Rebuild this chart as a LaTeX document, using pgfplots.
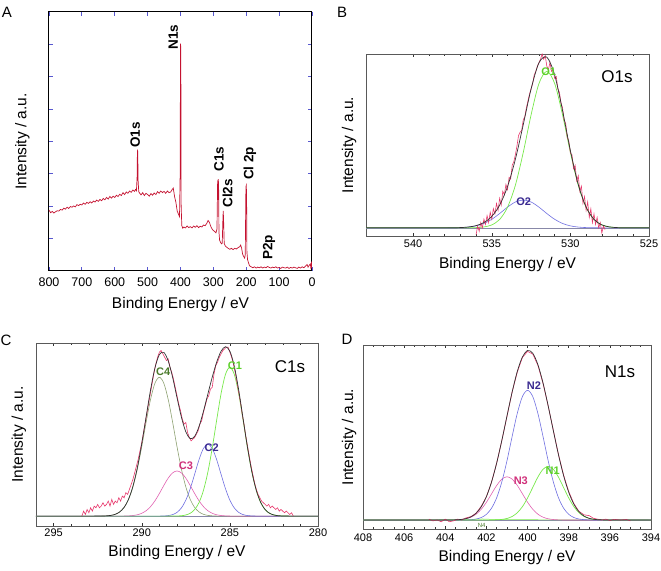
\documentclass[border=0pt]{standalone}
\usepackage{fontspec}
\setmainfont{Liberation Sans}
\usepackage{pgfplots}
\pgfplotsset{compat=1.18}
\definecolor{spec}{HTML}{C41230}
\definecolor{tickblue}{HTML}{5858D0}
\definecolor{raw}{HTML}{E8386C}
\definecolor{env}{HTML}{333333}
\definecolor{cgreen}{HTML}{77E84A}
\definecolor{cblue}{HTML}{6E6EE0}
\definecolor{cpink}{HTML}{E060B0}
\definecolor{colive}{HTML}{8CA070}
\definecolor{lgreen}{HTML}{5CD02A}
\definecolor{lblue}{HTML}{3A2A90}
\definecolor{lpink}{HTML}{D0307A}
\definecolor{lolive}{HTML}{4A7A2A}
\definecolor{base}{HTML}{8888A8}
\tikzset{pk/.style={font=\bfseries\fontsize{11bp}{12bp}\selectfont, inner sep=0pt}}
\pgfplotsset{
  common/.style={scale only axis, x dir=reverse,
    /pgf/number format/assume math mode=true,
    /pgf/number format/1000 sep={},
    tick align=inside,
    xlabel={Binding Energy / eV}, ylabel={Intensity / a.u.},
    label style={font=\fontsize{15.5bp}{18bp}\selectfont},
  },
  fitax/.style={common,
    axis line style={draw=black!65, line width=0.8pt},
    every tick/.style={black!80, line width=0.5pt},
    major tick length=3bp, minor tick length=2bp,
    ytick=\empty,
    tick label style={font=\fontsize{11bp}{13bp}\selectfont},
  },
}
\begin{document}
\begin{tikzpicture}[x=1bp,y=1bp]
\path[use as bounding box] (0,0) rectangle (661,571);
% ---------------- A ----------------
\begin{axis}[common, at={(49bp,300bp)}, anchor=south west, width=263bp, height=259bp,
  xmin=0, xmax=800, ymin=0, ymax=8,
  xtick={0,100,...,800}, ytick={1,...,7}, yticklabels={},
  axis line style={draw=black, line width=1pt},
  every tick/.style={tickblue, line width=0.8pt}, major tick length=4bp,
  tick label style={font=\fontsize{12.5bp}{14bp}\selectfont},
  xticklabel style={anchor=center, yshift=-11.5bp},
  xlabel style={at={(axis description cs:0.5,-0.131)}, anchor=center},
  ylabel style={at={(axis description cs:-0.1008,0.5)}, anchor=center},
]
\addplot[spec, line width=0.7pt] coordinates {
(800,1.88)(795,1.80)(790,1.84)(785,1.79)(780,1.83)(775,1.86)(770,1.85)(765,1.90)(760,1.88)(755,1.94)
(750,1.91)(745,1.97)(740,1.93)(735,1.99)(730,1.97)(725,2.01)(720,1.98)(715,2.05)(710,2.02)(705,2.06)
(700,2.04)(695,2.10)(690,2.06)(685,2.12)(680,2.09)(675,2.14)(670,2.10)(665,2.16)(660,2.13)(655,2.19)
(650,2.15)(645,2.21)(640,2.17)(635,2.24)(630,2.20)(625,2.27)(620,2.22)(615,2.30)(610,2.25)(605,2.31)
(600,2.27)(595,2.34)(590,2.30)(585,2.37)(580,2.33)(575,2.42)(570,2.36)(565,2.44)(560,2.40)(555,2.47)
(550,2.43)(545,2.50)(540,2.46)(537,2.52)(534,2.48)(532,2.90)(531,3.72)(530,3.70)(529,2.80)(527,2.45)
(524,2.40)(520,2.35)(515,2.42)(510,2.33)(505,2.40)(500,2.36)(495,2.31)(490,2.39)(485,2.34)(480,2.41)
(475,2.36)(470,2.45)(465,2.40)(460,2.47)(455,2.42)(450,2.46)(445,2.40)(440,2.47)(435,2.42)(430,2.44)
(425,2.52)(422,2.56)(418,2.30)(414,2.12)(410,1.85)(406,1.75)(403,1.68)(401,3.0)(400,7.02)(399,6.9)
(398,2.0)(396,1.40)(393,1.32)(390,1.36)(385,1.33)(380,1.39)(375,1.34)(370,1.37)(365,1.33)(360,1.39)
(355,1.35)(350,1.40)(345,1.34)(340,1.38)(335,1.36)(330,1.42)(325,1.40)(320,1.47)(316,1.56)(312,1.50)
(308,1.38)(304,1.30)(300,1.25)(296,1.22)(292,1.18)(289,1.30)(287,2.80)(286,2.20)(285,2.84)(284,2.60)
(283,1.20)(281,0.95)(278,0.88)(275,0.84)(273,0.86)(271,1.60)(270,1.86)(269,1.60)(267,0.85)(264,0.78)
(260,0.74)(255,0.70)(250,0.67)(245,0.70)(240,0.66)(235,0.70)(230,0.68)(225,0.72)(220,0.75)(217,0.80)
(214,0.70)(211,0.52)(208,0.45)(205,0.40)(203,0.50)(201,2.60)(200,2.64)(199,2.40)(198,0.60)(196,0.35)
(193,0.25)(190,0.16)(185,0.13)(180,0.10)(175,0.13)(170,0.09)(165,0.12)(160,0.10)(155,0.13)(150,0.09)
(145,0.12)(140,0.10)(135,0.14)(130,0.11)(125,0.09)(120,0.12)(115,0.10)(110,0.13)(105,0.09)(100,0.11)
(95,0.08)(90,0.12)(85,0.10)(80,0.09)(75,0.12)(70,0.08)(65,0.11)(60,0.09)(55,0.12)(50,0.10)
(45,0.08)(40,0.12)(35,0.09)(30,0.13)(25,0.10)(20,0.15)(15,0.20)(12,0.12)(8,0.18)(5,0.22)
(3,0.05)(1,0.30)(0,0.10)};
\begin{scope}[font=\bfseries\fontsize{13.5bp}{16bp}\selectfont, inner sep=0pt]
\node[rotate=90, anchor=west] at (axis cs:538,3.80) {O1s};
\node[rotate=90, anchor=west] at (axis cs:422,6.83) {N1s};
\node[rotate=90, anchor=west] at (axis cs:283,3.06) {C1s};
\node[rotate=90, anchor=west] at (axis cs:257,1.95) {Cl2s};
\node[rotate=90, anchor=west] at (axis cs:188.6,2.81) {Cl 2p};
\node[rotate=90, anchor=west] at (axis cs:130.8,0.34) {P2p};
\end{scope}
\end{axis}
% ---------------- B ----------------
\begin{axis}[fitax, at={(366bp,335bp)}, anchor=south west, width=283bp, height=182bp,
  xmin=525, xmax=543, ymin=-0.047, ymax=1.0,
  xtick={525,530,535,540}, minor tick num=4,
  xticklabel style={anchor=center, yshift=-7.5bp},
  xlabel style={at={(axis description cs:0.5,-0.157)}, anchor=center},
  ylabel style={at={(axis description cs:-0.060,0.5)}, anchor=center},
]
\addplot[base, line width=0.6pt] coordinates {(543,0)(525,0)};
\addplot[cblue, line width=0.6pt, smooth] coordinates {
(543,0)(538,0.0001)(537.5,0.0004)(537,0.0014)(536.5,0.0043)(536,0.0112)(535.5,0.0252)(535,0.0490)
(534.5,0.0822)(534,0.1190)(533.5,0.1486)(533,0.16)(532.5,0.1486)(532,0.1190)(531.5,0.0822)(531,0.0490)
(530.5,0.0252)(530,0.0112)(529.5,0.0043)(529,0.0014)(528.5,0.0004)(528,0.0001)(525,0)};
\addplot[cgreen, line width=0.7pt, smooth] coordinates {
(543,0)(537,0)(536.5,0.0003)(536,0.0012)(535.5,0.0050)(535,0.0168)(534.5,0.0482)(534,0.118)
(533.5,0.245)(533,0.433)(532.5,0.650)(532,0.830)(531.5,0.9)(531,0.830)(530.5,0.650)(530,0.433)
(529.5,0.245)(529,0.118)(528.5,0.0482)(528,0.0168)(527.5,0.0050)(527,0.0012)(526.5,0.0003)(526,0)(525,0)};
\addplot[raw, line width=0.6pt] coordinates {
(536.0,-0.04)(535.9,0.01)(535.8,-0.02)(535.7,0.03)(535.6,0.00)(535.5,0.05)(535.4,0.02)(535.3,0.07)
(535.2,0.03)(535.1,0.09)(535.0,0.05)(534.9,0.11)(534.8,0.08)(534.7,0.14)(534.6,0.10)(534.5,0.17)
(534.4,0.13)(534.3,0.21)(534.2,0.19)(534.1,0.25)(534.0,0.22)(533.9,0.29)(533.8,0.28)(533.7,0.36)
(533.6,0.38)(533.5,0.42)(533.4,0.47)(533.3,0.53)(533.2,0.55)(533.1,0.56)(533.0,0.62)(532.9,0.64)
(532.8,0.69)(532.7,0.73)(532.6,0.77)(532.5,0.80)(532.4,0.83)(532.3,0.88)(532.2,0.90)(532.1,0.93)
(532.0,0.95)(531.9,0.97)(531.8,1.00)(531.7,0.97)(531.6,0.99)(531.5,0.93)(531.4,0.91)(531.3,0.95)
(531.2,0.90)(531.1,0.91)(531.0,0.86)(530.9,0.87)(530.8,0.80)(530.7,0.78)(530.6,0.72)(530.5,0.69)
(530.4,0.62)(530.3,0.60)(530.2,0.52)(530.1,0.50)(530.0,0.43)(529.9,0.42)(529.8,0.34)(529.7,0.36)
(529.6,0.27)(529.5,0.30)(529.4,0.21)(529.3,0.24)(529.2,0.14)(529.1,0.18)(529.0,0.10)(528.9,0.15)
(528.8,0.06)(528.7,0.11)(528.6,0.03)(528.5,0.08)(528.4,0.02)(528.3,0.06)(528.2,0.00)(528.1,0.03)
(528.0,-0.03)(527.9,0.01)(527.8,-0.01)};
\addplot[env, line width=0.7pt, smooth] coordinates {
(543,0)(538,0.0001)(537.5,0.0004)(537,0.0014)(536.5,0.0046)(536,0.0124)(535.5,0.0302)(535,0.0658)
(534.5,0.1304)(534,0.237)(533.5,0.394)(533,0.593)(532.5,0.799)(532,0.949)(531.5,0.982)(531,0.879)
(530.5,0.675)(530,0.444)(529.5,0.249)(529,0.119)(528.5,0.0486)(528,0.0169)(527.5,0.0050)(527,0.0012)
(526.5,0.0003)(526,0)(525,0)};
\node[pk, lgreen] at (axis cs:531.38,0.898) {O1};
\node[pk, lblue] at (axis cs:532.97,0.15) {O2};
\end{axis}
% ---------------- C ----------------
\begin{axis}[fitax, at={(36bp,45bp)}, anchor=south west, width=282bp, height=183bp,
  xmin=280, xmax=296, ymin=-0.059, ymax=1.035,
  xtick={280,285,290,295}, minor tick num=4,
  xticklabel style={anchor=center, yshift=-6.5bp},
  xlabel style={at={(axis description cs:0.5,-0.145)}, anchor=center},
  ylabel style={at={(axis description cs:-0.0603,0.5)}, anchor=center},
]
\addplot[base, line width=0.6pt] coordinates {(296,0)(280,0)};
\addplot[colive, line width=0.6pt, smooth] coordinates {
(296,0)(292.5,0.0002)(292.25,0.0006)(292,0.0017)(291.75,0.0044)(291.5,0.0110)(291.25,0.0250)(291,0.0521)
(290.75,0.0997)(290.5,0.1750)(290.25,0.2815)(290,0.4155)(289.75,0.5624)(289.5,0.6981)(289.25,0.7949)
(289,0.830)(288.75,0.7949)(288.5,0.6981)(288.25,0.5624)(288,0.4155)(287.75,0.2815)(287.5,0.1750)
(287.25,0.0997)(287,0.0521)(286.75,0.0250)(286.5,0.0110)(286.25,0.0044)(286,0.0017)(285.75,0.0006)
(285.5,0.0002)(280,0)};
\addplot[cpink, line width=0.6pt, smooth] coordinates {
(296,0)(291.25,0.0002)(291,0.0005)(290.75,0.0014)(290.5,0.0036)(290.25,0.0081)(290,0.0170)(289.75,0.0324)
(289.5,0.0569)(289.25,0.0916)(289,0.1352)(288.75,0.1830)(288.5,0.2271)(288.25,0.2586)(288,0.270)
(287.75,0.2586)(287.5,0.2271)(287.25,0.1830)(287,0.1352)(286.75,0.0916)(286.5,0.0569)(286.25,0.0324)
(286,0.0170)(285.75,0.0081)(285.5,0.0036)(285.25,0.0014)(285,0.0005)(284.75,0.0002)(280,0)};
\addplot[cblue, line width=0.6pt, smooth] coordinates {
(296,0)(289.25,0.0001)(289,0.0003)(288.75,0.0010)(288.5,0.0033)(288.25,0.0091)(288,0.0224)(287.75,0.0491)
(287.5,0.0953)(287.25,0.1639)(287,0.2500)(286.75,0.3379)(286.5,0.4048)(286.25,0.430)(286,0.4048)
(285.75,0.3379)(285.5,0.2500)(285.25,0.1639)(285,0.0953)(284.75,0.0491)(284.5,0.0224)(284.25,0.0091)
(284,0.0033)(283.75,0.0010)(283.5,0.0003)(283.25,0.0001)(280,0)};
\addplot[cgreen, line width=0.7pt, smooth] coordinates {
(296,0)(288.25,0.0002)(288,0.0008)(287.75,0.0024)(287.5,0.0068)(287.25,0.0171)(287,0.0391)(286.75,0.0813)
(286.5,0.1534)(286.25,0.2626)(286,0.4074)(285.75,0.5735)(285.5,0.7321)(285.25,0.8475)(285,0.890)
(284.75,0.8475)(284.5,0.7321)(284.25,0.5735)(284,0.4074)(283.75,0.2626)(283.5,0.1534)(283.25,0.0813)
(283,0.0391)(282.75,0.0171)(282.5,0.0068)(282.25,0.0024)(282,0.0008)(281.75,0.0002)(280,0)};
\addplot[raw, line width=0.6pt] coordinates {
(293.4,0.00)(293.3,0.03)(293.2,0.01)(293.1,0.04)(293.0,0.02)(292.9,0.05)(292.8,0.03)(292.7,0.06)
(292.6,0.05)(292.5,0.07)(292.4,0.05)(292.3,0.06)(292.2,0.08)(292.1,0.06)(292.0,0.07)(291.9,0.09)
(291.8,0.06)(291.7,0.10)(291.6,0.07)(291.5,0.09)(291.4,0.08)(291.3,0.11)(291.2,0.09)(291.1,0.12)
(291.0,0.11)(290.9,0.14)(290.8,0.13)(290.7,0.16)(290.6,0.19)(290.5,0.22)(290.4,0.26)(290.3,0.30)
(290.2,0.34)(290.1,0.39)(290.0,0.44)(289.9,0.50)(289.8,0.56)(289.7,0.62)(289.6,0.68)(289.5,0.74)
(289.4,0.80)(289.3,0.86)(289.2,0.91)(289.1,0.95)(289.0,0.98)(288.9,0.99)(288.8,0.97)(288.7,0.95)
(288.6,0.93)(288.5,0.94)(288.4,0.89)(288.3,0.86)(288.2,0.82)(288.1,0.77)(288.0,0.72)(287.9,0.67)
(287.8,0.63)(287.7,0.58)(287.6,0.55)(287.5,0.56)(287.4,0.50)(287.3,0.47)(287.2,0.45)(287.1,0.46)
(287.0,0.47)(286.9,0.49)(286.8,0.51)(286.7,0.55)(286.6,0.57)(286.5,0.62)(286.4,0.66)(286.3,0.70)
(286.2,0.72)(286.1,0.76)(286.0,0.77)(285.9,0.85)(285.8,0.90)(285.7,0.92)(285.6,0.95)(285.5,0.97)
(285.4,0.99)(285.3,1.00)(285.2,1.01)(285.1,1.01)(285.0,0.98)(284.9,0.95)(284.8,0.91)(284.7,0.86)
(284.6,0.80)(284.5,0.74)(284.4,0.68)(284.3,0.61)(284.2,0.55)(284.1,0.48)(284.0,0.42)(283.9,0.36)
(283.8,0.30)(283.7,0.25)(283.6,0.20)(283.5,0.16)(283.4,0.13)(283.3,0.11)(283.2,0.09)(283.1,0.08)
(283.0,0.07)(282.9,0.06)(282.8,0.07)(282.7,0.05)(282.6,0.06)(282.5,0.05)(282.4,0.04)(282.3,0.05)
(282.2,0.03)(282.1,0.04)(282.0,0.03)(281.9,0.02)(281.8,0.03)(281.7,0.02)(281.6,0.01)(281.5,0.02)
(281.4,0.00)};
\addplot[env, line width=0.7pt, smooth] coordinates {
(296,0)(292.5,0.0002)(292.25,0.0006)(292,0.0017)(291.75,0.0044)(291.5,0.0111)(291.25,0.0252)(291,0.0526)
(290.75,0.1011)(290.5,0.1786)(290.25,0.2896)(290,0.4325)(289.75,0.5948)(289.5,0.7550)(289.25,0.8865)
(289,0.9655)(288.75,0.9789)(288.5,0.9285)(288.25,0.8303)(288,0.7087)(287.75,0.5916)(287.5,0.5041)
(287.25,0.4637)(287,0.4764)(286.75,0.5358)(286.5,0.6261)(286.25,0.7294)(286,0.8309)(285.75,0.9201)
(285.5,0.9859)(285.25,1.0128)(285,0.9858)(284.75,0.8968)(284.5,0.7545)(284.25,0.5826)(284,0.4107)
(283.75,0.2636)(283.5,0.1537)(283.25,0.0814)(283,0.0391)(282.75,0.0171)(282.5,0.0068)(282.25,0.0024)
(282,0.0008)(281.75,0.0002)(280,0)};
\node[pk, lolive] at (axis cs:288.78,0.863) {C4};
\node[pk, lpink] at (axis cs:287.49,0.30) {C3};
\node[pk, lblue] at (axis cs:286.03,0.41) {C2};
\node[pk, lgreen] at (axis cs:284.71,0.897) {C1};
\end{axis}
% ---------------- D ----------------
\begin{axis}[fitax, at={(363bp,42bp)}, anchor=south west, width=288bp, height=184bp,
  xmin=394, xmax=408, ymin=-0.052, ymax=1.012,
  xtick={394,396,...,408}, minor tick num=3,
  xticklabel style={anchor=center, yshift=-9bp},
  xlabel style={at={(axis description cs:0.5,-0.155)}, anchor=center},
  ylabel style={at={(axis description cs:-0.0486,0.5)}, anchor=center},
]
\addplot[base, line width=0.6pt] coordinates {(408,0)(394,0)};
\addplot[cgreen, line width=0.5pt] coordinates {(408,0)(403,0.002)(402.2,0.006)(401.4,0.002)(394,0)};
\addplot[cpink, line width=0.6pt, smooth] coordinates {
(408,0)(404,0.0001)(403.75,0.0003)(403.5,0.0010)(403.25,0.0028)(403,0.0072)(402.75,0.0164)(402.5,0.0338)
(402.25,0.0624)(402,0.1028)(401.75,0.1516)(401.5,0.2002)(401.25,0.2365)(401,0.250)(400.75,0.2365)
(400.5,0.2002)(400.25,0.1516)(400,0.1028)(399.75,0.0624)(399.5,0.0338)(399.25,0.0164)(399,0.0072)
(398.75,0.0028)(398.5,0.0010)(398.25,0.0003)(398,0.0001)(394,0)};
\addplot[cblue, line width=0.6pt, smooth] coordinates {
(408,0)(403.5,0.0001)(403.25,0.0002)(403,0.0007)(402.75,0.0020)(402.5,0.0057)(402.25,0.0144)(402,0.0329)
(401.75,0.0686)(401.5,0.1293)(401.25,0.2213)(401,0.3434)(400.75,0.4833)(400.5,0.6170)(400.25,0.7142)
(400,0.750)(399.75,0.7142)(399.5,0.6170)(399.25,0.4833)(399,0.3434)(398.75,0.2213)(398.5,0.1293)
(398.25,0.0686)(398,0.0329)(397.75,0.0144)(397.5,0.0057)(397.25,0.0020)(397,0.0007)(396.75,0.0002)
(396.5,0.0001)(394,0)};
\addplot[cgreen, line width=0.7pt, smooth] coordinates {
(408,0)(402,0.0001)(401.75,0.0004)(401.5,0.0012)(401.25,0.0034)(401,0.0089)(400.75,0.0204)(400.5,0.0419)
(400.25,0.0773)(400,0.1274)(399.75,0.1880)(399.5,0.2482)(399.25,0.2933)(399,0.310)(398.75,0.2933)
(398.5,0.2482)(398.25,0.1880)(398,0.1274)(397.75,0.0773)(397.5,0.0419)(397.25,0.0204)(397,0.0089)
(396.75,0.0034)(396.5,0.0012)(396.25,0.0004)(396,0.0001)(394,0)};
\addplot[raw, line width=0.6pt] coordinates {
(404.8,0.005)(404.6,-0.005)(404.4,0.00)(404.2,-0.01)(404.0,0.005)(403.8,-0.01)(403.6,-0.005)(403.4,0.005)
(403.2,0.00)(403.0,0.012)(402.75,0.02)(402.5,0.04)(402.25,0.08)(402.0,0.135)(401.75,0.22)(401.5,0.33)
(401.25,0.46)(401.0,0.60)(400.75,0.74)(400.5,0.855)(400.25,0.94)(400.0,0.975)(399.75,0.96)(399.5,0.895)
(399.25,0.79)(399.0,0.66)(398.75,0.52)(398.5,0.38)(398.25,0.26)(398.0,0.165)(397.75,0.095)(397.5,0.05)
(397.25,0.03)(397.0,0.025)(396.8,0.01)(396.6,0.005)(396.4,0.0)(396.2,0.005)(396.0,-0.003)(395.8,0.004)
(395.5,0.0)(395.2,0.003)(395.0,-0.005)};
\addplot[env, line width=0.7pt, smooth] coordinates {
(408,0)(404,0.0001)(403.75,0.0003)(403.5,0.0011)(403.25,0.0030)(403,0.0079)(402.75,0.0184)(402.5,0.0395)
(402.25,0.0768)(402,0.1358)(401.75,0.2206)(401.5,0.3307)(401.25,0.4612)(401,0.6023)(400.75,0.7402)
(400.5,0.8591)(400.25,0.9431)(400,0.980)(399.75,0.9646)(399.5,0.8990)(399.25,0.7930)(399,0.6606)
(398.75,0.5174)(398.5,0.3785)(398.25,0.2569)(398,0.1604)(397.75,0.0917)(397.5,0.0476)(397.25,0.0224)
(397,0.0096)(396.75,0.0036)(396.5,0.0013)(396.25,0.0004)(396,0.0001)(394,0)};
\node[pk, lblue] at (axis cs:399.69,0.777) {N2};
\node[pk, lpink] at (axis cs:400.33,0.227) {N3};
\node[pk, lgreen] at (axis cs:398.78,0.285) {N1};
\node[font=\fontsize{6bp}{7bp}\selectfont, lolive, inner sep=0pt] at (axis cs:402.23,-0.029) {N4};
\end{axis}
% panel letters and titles
\begin{scope}[font=\fontsize{15bp}{17bp}\selectfont]
\node at (7,559) {A};
\node at (342,559) {B};
\node at (6,231) {C};
\node at (347,232) {D};
\end{scope}
\begin{scope}[font=\fontsize{17bp}{19bp}\selectfont]
\node at (617,494) {O1s};
\node at (290,204) {C1s};
\node at (620,199) {N1s};
\end{scope}
\end{tikzpicture}
\end{document}
